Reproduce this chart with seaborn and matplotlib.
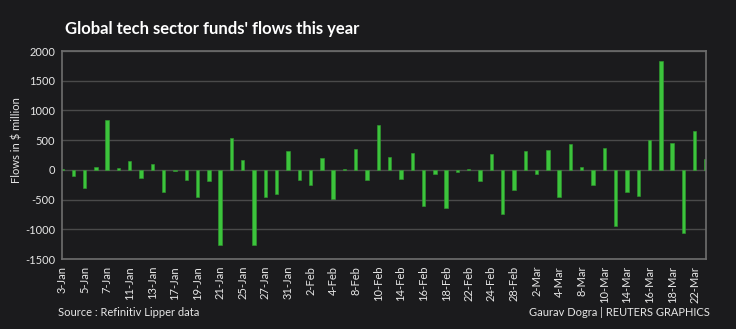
import matplotlib
matplotlib.use("Agg")
import matplotlib.pyplot as plt
import seaborn as sns
import pandas as pd
import numpy as np

# Weekday dates, 3-Jan to 23-Mar
dates = [
    "3-Jan", "4-Jan", "5-Jan", "6-Jan", "7-Jan", "10-Jan", "11-Jan", "12-Jan", "13-Jan", "14-Jan",
    "17-Jan", "18-Jan", "19-Jan", "20-Jan", "21-Jan", "24-Jan", "25-Jan", "26-Jan", "27-Jan", "28-Jan",
    "31-Jan", "1-Feb", "2-Feb", "3-Feb", "4-Feb", "7-Feb", "8-Feb", "9-Feb", "10-Feb", "11-Feb",
    "14-Feb", "15-Feb", "16-Feb", "17-Feb", "18-Feb", "21-Feb", "22-Feb", "23-Feb", "24-Feb", "25-Feb",
    "28-Feb", "1-Mar", "2-Mar", "3-Mar", "4-Mar", "7-Mar", "8-Mar", "9-Mar", "10-Mar", "11-Mar",
    "14-Mar", "15-Mar", "16-Mar", "17-Mar", "18-Mar", "21-Mar", "22-Mar", "23-Mar",
]

# Net flows, $ million
flows = [
    15, -95, -303, 50, 837, 38, 152, -135, 101, -365,
    -22, -169, -449, -180, -1270, 539, 174, -1270, -463, -413,
    320, -163, -247, 197, -489, 8, 343, -169, 758, 208,
    -152, 287, -601, -62, -635, -34, 17, -183, 272, -742,
    -331, 320, -73, 337, -461, 433, 51, -258, 360, -938,
    -365, -438, 494, 1837, 444, -1056, 657, 191,
]

y_ticks = [-1500, -1000, -500, 0, 500, 1000, 1500, 2000]

df = pd.DataFrame({"date": dates, "flow": flows})

bg = "#1b1b1d"
bar_color = "#3cc43c"
frame_color = "#6e6e6e"
grid_color = "#4a4a4a"
text_color = "#e6e6e6"

sns.set_theme(style="dark")
plt.rcParams["font.family"] = ["Lato", "DejaVu Sans"]

fig = plt.figure(figsize=(7.36, 3.29), dpi=100, facecolor=bg)
ax = fig.add_axes([62 / 736, 1 - 259 / 329, (706 - 62) / 736, (259 - 51) / 329])
ax.set_facecolor(bg)

sns.barplot(data=df, x="date", y="flow", color=bar_color, width=0.3,
            saturation=1, edgecolor="#2f9e2f", linewidth=0.4, ax=ax)

ax.set_xlim(0, len(dates) - 1)
ax.set_ylim(-1500, 2000)
ax.set_yticks(y_ticks)
ax.set_yticklabels([str(v) for v in y_ticks], color=text_color, fontsize=8)
ax.yaxis.grid(True, color=grid_color, linewidth=1.0)
ax.xaxis.grid(False)
ax.set_axisbelow(True)

xt = list(range(0, len(dates), 2))
ax.set_xticks(xt)
ax.set_xticklabels([dates[i] for i in xt], rotation=90, color=text_color, fontsize=8)
ax.tick_params(axis="both", length=0, pad=5)

ax.set_xlabel("")
ax.set_ylabel("")

for side in ["left", "bottom", "right", "top"]:
    ax.spines[side].set_visible(True)
    ax.spines[side].set_color(frame_color)
    ax.spines[side].set_linewidth(1.2)

fig.text(17 / 736, 1 - 140 / 329, "Flows in $ million", rotation=90,
         color=text_color, fontsize=8, va="center", ha="center")
fig.text(65 / 736, 1 - 29 / 329, "Global tech sector funds' flows this year",
         color="white", fontsize=12, fontweight="bold", va="center", ha="left")
fig.text(58 / 736, 1 - 312 / 329, "Source : Refinitiv Lipper data",
         color=text_color, fontsize=8, va="center", ha="left")
fig.text(710 / 736, 1 - 313 / 329, "Gaurav Dogra | REUTERS GRAPHICS",
         color=text_color, fontsize=8, va="center", ha="right")

fig.savefig("out.png", dpi=100, facecolor=bg)
